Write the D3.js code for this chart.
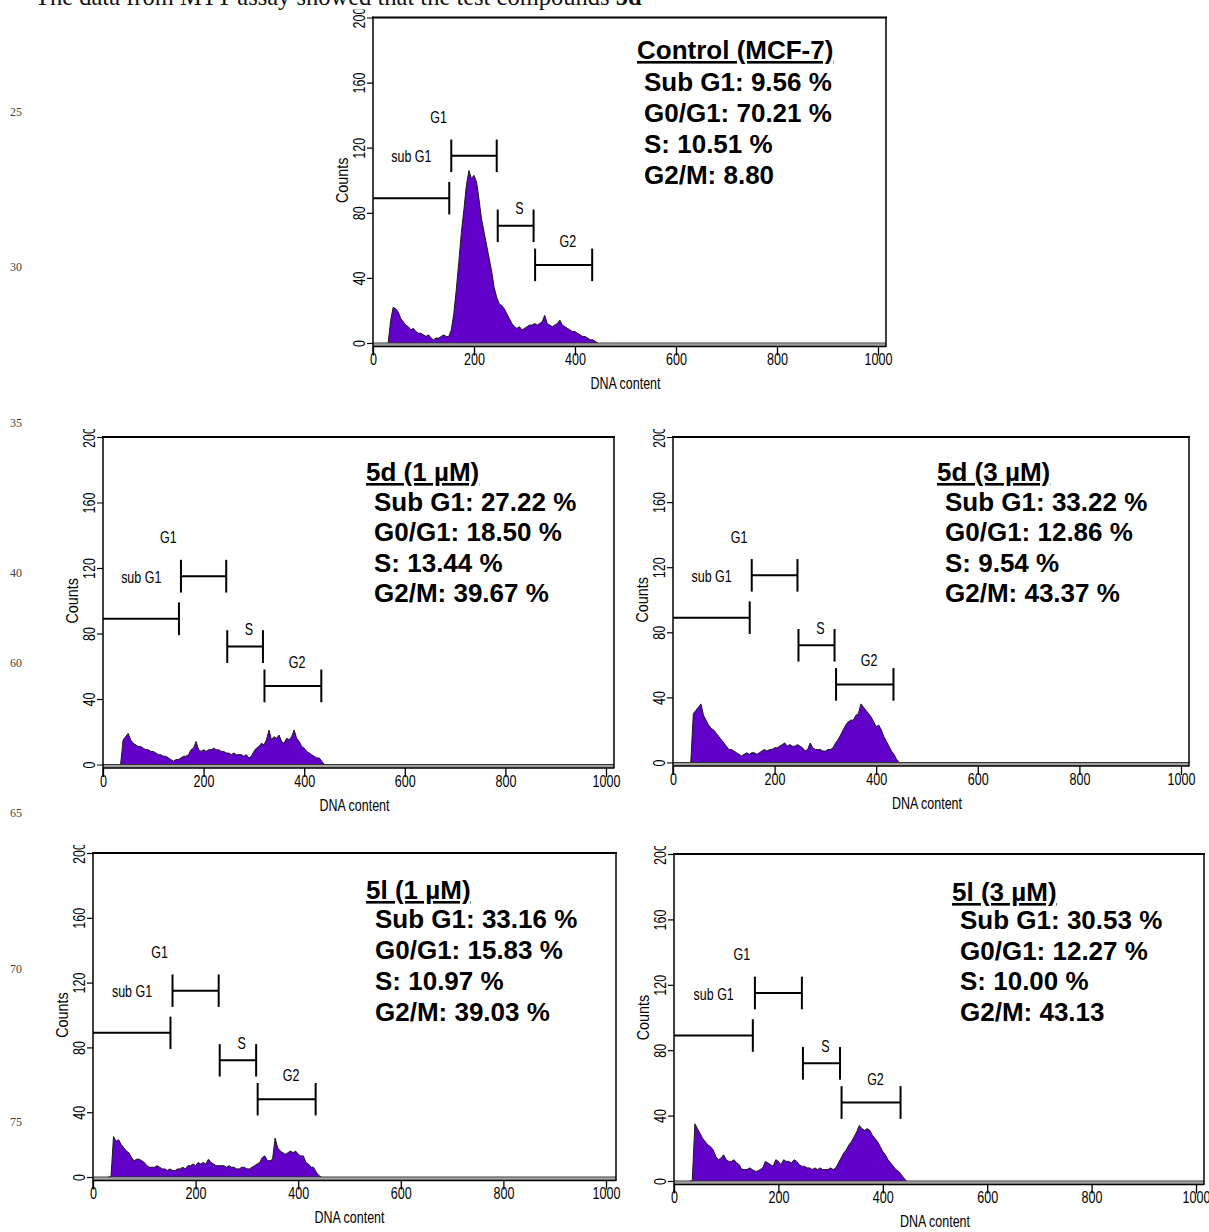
<!DOCTYPE html>
<html>
<head>
<meta charset="utf-8">
<script src="https://cdn.jsdelivr.net/npm/d3@7"></script>
<style>
  body { margin: 0; background: #fff; }
  svg { display: block; }
</style>
</head>
<body>
<div class="chart"></div>
<script>
// DNA content (channel) where each histogram bin starts
const dnaBins = [
  30, 35, 40, 45, 50, 55, 60, 65, 70, 75,
  80, 85, 90, 95, 100, 105, 110, 115, 120, 125,
  130, 135, 140, 145, 150, 155, 160, 165, 170, 175,
  180, 185, 190, 195, 200, 205, 210, 215, 220, 225,
  230, 235, 240, 245, 250, 255, 260, 265, 270, 275,
  280, 285, 290, 295, 300, 305, 310, 315, 320, 325,
  330, 335, 340, 345, 350, 355, 360, 365, 370, 375,
  380, 385, 390, 395, 400, 405, 410, 415, 420, 425,
  430, 435, 440, 445
];

// counts
const controlCounts = [
  0, 14, 22, 21, 19, 15, 13, 11, 10, 8,
  9, 7, 6, 6, 5, 4, 5, 3, 2, 3,
  3, 4, 5, 4, 4, 8, 18, 33, 50, 68,
  82, 97, 106, 101, 103, 99, 88, 76, 68, 60,
  52, 44, 34, 28, 24, 23, 21, 18, 15, 12,
  10, 9, 10, 8, 9, 10, 11, 11, 12, 11,
  12, 13, 17, 12, 11, 10, 11, 12, 14, 11,
  10, 9, 8, 7, 7, 6, 5, 4, 4, 3,
  2, 2, 1, 0
];
const d5_1uM = [
  0, 0, 15, 17, 19, 15, 13, 12, 11, 11,
  10, 9, 9, 8, 8, 7, 6, 6, 5, 5,
  4, 3, 2, 3, 3, 4, 5, 5, 6, 9,
  10, 14, 9, 8, 9, 8, 9, 9, 10, 9,
  9, 8, 8, 7, 7, 6, 7, 6, 6, 6,
  5, 6, 4, 5, 8, 10, 11, 13, 12, 15,
  21, 15, 17, 16, 18, 14, 13, 16, 15, 17,
  21, 16, 14, 11, 10, 8, 7, 6, 5, 4,
  4, 2, 0, 0
];
const d5_3uM = [
  0, 0, 30, 32, 34, 36, 29, 26, 23, 21,
  20, 18, 16, 14, 12, 10, 8, 8, 7, 6,
  5, 4, 5, 6, 5, 6, 6, 5, 6, 7,
  8, 7, 8, 8, 9, 9, 10, 11, 12, 10,
  11, 10, 10, 11, 10, 9, 7, 8, 12, 9,
  8, 8, 8, 7, 7, 8, 8, 9, 12, 14,
  17, 20, 23, 25, 26, 26, 29, 30, 36, 34,
  32, 30, 28, 25, 22, 23, 20, 16, 13, 10,
  7, 5, 2, 0
];
const l5_1uM = [
  0, 0, 25, 22, 23, 20, 18, 16, 15, 12,
  10, 11, 11, 10, 9, 7, 6, 6, 6, 7,
  6, 5, 5, 4, 5, 4, 4, 5, 5, 6,
  5, 7, 7, 8, 7, 9, 8, 9, 8, 11,
  9, 8, 7, 7, 7, 7, 6, 7, 6, 6,
  5, 5, 6, 6, 5, 5, 6, 7, 8, 9,
  12, 13, 10, 10, 11, 24, 18, 16, 15, 14,
  15, 16, 15, 16, 14, 13, 13, 9, 8, 6,
  6, 3, 1, 0
];
const l5_3uM = [
  0, 0, 35, 32, 29, 26, 24, 22, 21, 19,
  15, 13, 14, 16, 13, 12, 12, 13, 11, 10,
  7, 7, 7, 8, 7, 6, 6, 7, 8, 12,
  11, 10, 9, 13, 12, 10, 13, 12, 12, 11,
  13, 12, 10, 9, 9, 8, 8, 7, 8, 7,
  8, 7, 7, 7, 8, 7, 8, 11, 14, 17,
  19, 22, 24, 27, 30, 34, 32, 31, 32, 31,
  28, 26, 24, 21, 18, 16, 13, 11, 9, 7,
  6, 4, 2, 0
];

const panelTitles = ["Control (MCF-7)", "5d (1 µM)", "5d (3 µM)", "5l (1 µM)", "5l (3 µM)"];
const subG1Pct = ["9.56 %", "27.22 %", "33.22 %", "33.16 %", "30.53 %"];
const g0g1Pct = ["70.21 %", "18.50 %", "12.86 %", "15.83 %", "12.27 %"];
const sPct = ["10.51 %", "13.44 %", "9.54 %", "10.97 %", "10.00 %"];
const g2mPct = ["8.80", "39.67 %", "43.37 %", "39.03 %", "43.13"];

// gate markers (DNA content start/end, level in counts) and their labels
const gateNames = ["sub G1", "G1", "S", "G2"];
const gateStart = [0, 155, 247, 321];
const gateEnd = [151, 245, 318, 434];
const gateLevel = [89, 115, 72, 48];
const gateLabelX = [76, 130, 290, 386];
const gateLabelY = [111, 135, 79, 59];

const xMajorTicks = [0, 200, 400, 600, 800, 1000];
const yMajorTicks = [0, 40, 80, 120, 160, 200];
const lineNumbers = ["25", "30", "35", "40", "60", "65", "70", "75"];

const allCounts = [controlCounts, d5_1uM, d5_3uM, l5_1uM, l5_3uM];

// where each panel sits on the page
const layout = [
  {x0: 373, x1: 878, top: 17.5, y0: 343, right: 886, tx: 637, ty: 59, lx: 644, ly: 91, dy: 31},
  {x0: 103, x1: 606, top: 437, y0: 764.5, right: 614, tx: 366, ty: 481, lx: 374, ly: 511, dy: 30.3},
  {x0: 673, x1: 1181, top: 437, y0: 762.5, right: 1189, tx: 937, ty: 481, lx: 945, ly: 511, dy: 30.3},
  {x0: 93, x1: 606, top: 853, y0: 1177, right: 616, tx: 366, ty: 899, lx: 375, ly: 928, dy: 31},
  {x0: 674, x1: 1196, top: 854, y0: 1181, right: 1204, tx: 952, ty: 901, lx: 960, ly: 929, dy: 30.7}
];
const lineNumberY = [112, 267, 423, 573, 663, 813, 969, 1122];

const purple = "#6000c8";
const narrow = "Liberation Sans, Arial, sans-serif";
const sx = 0.74; // the plot fonts are condensed

const svg = d3.select(".chart").append("svg")
  .attr("width", 1209)
  .attr("height", 1232)
  .style("background", "#fff");

const defs = svg.append("defs");

// running header of the page, cut off at the top
const header = svg.append("text")
  .attr("x", 35)
  .attr("y", 5)
  .attr("font-family", "Liberation Serif, Times New Roman, serif")
  .attr("font-size", 24.5)
  .attr("fill", "#111");
header.append("tspan").text("The data from MTT assay showed that the test compounds ");
header.append("tspan").attr("font-weight", "bold").text("5d");

// manuscript line numbers
svg.selectAll(".lineno")
  .data(lineNumbers)
  .enter()
  .append("text")
  .attr("class", "lineno")
  .attr("x", 10)
  .attr("y", (d, i) => lineNumberY[i] + 4)
  .attr("font-family", "Liberation Serif, serif")
  .attr("font-size", 12)
  .attr("fill", "#444")
  .text(d => d);

const drawPanel = (p, counts, i) => {
  const g = svg.append("g");
  const x = d3.scaleLinear().domain([0, 1000]).range([p.x0, p.x1]);
  const y = d3.scaleLinear().domain([0, 200]).range([p.y0, p.top]);

  // histogram
  const area = d3.area()
    .x((d, k) => x(dnaBins[k]))
    .y0(y(0))
    .y1(d => y(d));
  const line = d3.line()
    .x((d, k) => x(dnaBins[k]))
    .y(d => y(d));
  g.append("path").datum(counts).attr("d", area).attr("fill", purple);
  g.append("path").datum(counts).attr("d", line)
    .attr("fill", "none").attr("stroke", "#1a1a1a").attr("stroke-width", 1);

  // frame
  g.append("rect")
    .attr("x", p.x0).attr("y", p.y0 + 0.5)
    .attr("width", p.right - p.x0).attr("height", 3)
    .attr("fill", "#a0a0a0");
  g.append("line")
    .attr("x1", p.x0).attr("x2", p.right).attr("y1", p.y0).attr("y2", p.y0)
    .attr("stroke", "#333").attr("stroke-width", 1);
  g.append("line")
    .attr("x1", p.x0 - 1).attr("x2", p.right + 1).attr("y1", p.top).attr("y2", p.top)
    .attr("stroke", "#000").attr("stroke-width", 2);
  g.append("line")
    .attr("x1", p.right).attr("x2", p.right).attr("y1", p.top).attr("y2", p.y0 + 4)
    .attr("stroke", "#000").attr("stroke-width", 1.5);
  g.append("line")
    .attr("x1", p.x0).attr("x2", p.right).attr("y1", p.y0 + 3.5).attr("y2", p.y0 + 3.5)
    .attr("stroke", "#000").attr("stroke-width", 1.3);

  // x axis
  const xMinor = d3.range(0, 1001, 40).filter(v => v % 200 !== 0);
  const xa = g.append("g").attr("transform", `translate(0,${p.y0 + 3.5})`);
  xa.call(d3.axisBottom(x).tickValues(xMinor).tickSize(5).tickSizeOuter(0).tickFormat(""));
  xa.call(d3.axisBottom(x).tickValues(xMajorTicks).tickSize(9).tickSizeOuter(0).tickFormat(d3.format("d")));
  xa.select(".domain").remove();
  xa.selectAll("line").attr("stroke", "#000").attr("stroke-width", 1.3);
  xa.selectAll("text")
    .attr("y", 19)
    .attr("dy", 0)
    .attr("transform", `scale(${sx},1)`)
    .attr("font-family", narrow)
    .attr("font-size", 17)
    .attr("fill", "#000");

  g.append("text")
    .attr("transform", `translate(${x(500)},${p.y0 + 46}) scale(0.78,1)`)
    .attr("text-anchor", "middle")
    .attr("font-family", narrow)
    .attr("font-size", 16)
    .text("DNA content");

  // y axis (the 200 label is cut by the edge of the original picture)
  defs.append("clipPath").attr("id", "yc" + i)
    .append("rect").attr("x", -40).attr("y", p.top - 8).attr("width", 45).attr("height", p.y0 - p.top + 30);
  const yMinor = d3.range(0, 201, 5).filter(v => v % 40 !== 0);
  const ya = g.append("g").attr("transform", `translate(${p.x0},0)`).attr("clip-path", "url(#yc" + i + ")");
  ya.call(d3.axisLeft(y).tickValues(yMinor).tickSize(3).tickSizeOuter(0).tickFormat(""));
  ya.call(d3.axisLeft(y).tickValues(yMajorTicks).tickSize(6).tickSizeOuter(0).tickFormat(d3.format("d")));
  ya.select(".domain").remove();
  ya.selectAll("line").attr("stroke", "#000").attr("stroke-width", 1.2);
  ya.selectAll("text")
    .attr("x", 0)
    .attr("y", -8)
    .attr("dy", 0)
    .attr("text-anchor", "middle")
    .attr("transform", `rotate(-90) scale(${sx},1)`)
    .attr("font-family", narrow)
    .attr("font-size", 17)
    .attr("fill", "#000");
  g.append("line")
    .attr("x1", p.x0).attr("x2", p.x0).attr("y1", p.top - 1).attr("y2", p.y0 + 12)
    .attr("stroke", "#000").attr("stroke-width", 1.5);

  g.append("text")
    .attr("transform", `translate(${p.x0 - 25},${y(100)}) rotate(-90) scale(0.9,1)`)
    .attr("text-anchor", "middle")
    .attr("font-family", narrow)
    .attr("font-size", 16)
    .text("Counts");

  // gates
  const gates = gateNames.map((name, k) => ({name, k}));
  const gg = g.append("g").attr("stroke", "#000").attr("stroke-width", 2);
  gg.selectAll(".bar").data(gates).enter().append("line")
    .attr("x1", d => x(gateStart[d.k])).attr("x2", d => x(gateEnd[d.k]))
    .attr("y1", d => y(gateLevel[d.k])).attr("y2", d => y(gateLevel[d.k]));
  gg.selectAll(".capR").data(gates).enter().append("line")
    .attr("x1", d => x(gateEnd[d.k])).attr("x2", d => x(gateEnd[d.k]))
    .attr("y1", d => y(gateLevel[d.k] - 10)).attr("y2", d => y(gateLevel[d.k] + 10));
  gg.selectAll(".capL").data(gates.filter(d => d.k > 0)).enter().append("line")
    .attr("x1", d => x(gateStart[d.k])).attr("x2", d => x(gateStart[d.k]))
    .attr("y1", d => y(gateLevel[d.k] - 10)).attr("y2", d => y(gateLevel[d.k] + 10));
  g.selectAll(".glabel").data(gates).enter().append("text")
    .attr("transform", d => `translate(${x(gateLabelX[d.k])},${y(gateLabelY[d.k])}) scale(0.78,1)`)
    .attr("text-anchor", "middle")
    .attr("font-family", narrow)
    .attr("font-size", 16)
    .text(d => d.name);

  // percentages
  const stats = g.append("g")
    .attr("font-family", "Liberation Sans, Arial, sans-serif")
    .attr("font-weight", "bold")
    .attr("font-size", 26)
    .attr("fill", "#000");
  stats.append("text")
    .attr("x", p.tx).attr("y", p.ty)
    .style("text-decoration", "underline")
    .text(panelTitles[i]);
  const rows = [
    "Sub G1: " + subG1Pct[i],
    "G0/G1: " + g0g1Pct[i],
    "S: " + sPct[i],
    "G2/M: " + g2mPct[i]
  ];
  stats.selectAll(".row").data(rows).enter().append("text")
    .attr("x", p.lx)
    .attr("y", (d, k) => p.ly + k * p.dy)
    .text(d => d);
};

layout.forEach((p, i) => drawPanel(p, allCounts[i], i));
</script>
</body>
</html>
